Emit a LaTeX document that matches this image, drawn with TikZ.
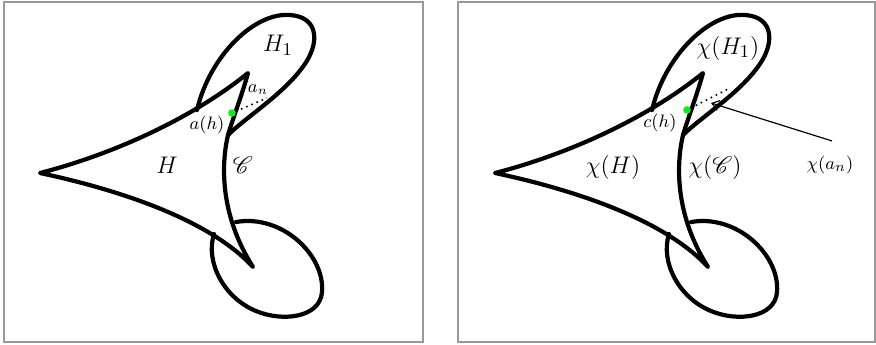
\documentclass[tikz,border=0pt]{standalone}
\usepackage{mathrsfs}
\usetikzlibrary{arrows.meta}
\definecolor{dotgreen}{RGB}{20,235,20}
\tikzset{
  curve/.style={line width=2.1pt, line join=round, line cap=round},
  frame/.style={draw=black!40, line width=0.6pt},
  big/.style={font=\fontsize{13}{15}\selectfont},
  small/.style={font=\fontsize{9}{10}\selectfont},
  dots/.style={dotted, line width=0.8pt},
}
\begin{document}
\begin{tikzpicture}[x=0.5pt,y=-0.5pt]
\useasboundingbox (0,0) rectangle (876,344);
\draw[frame] (4,2) rectangle (423,342);
\draw[frame] (458,2) rectangle (875,342);
\foreach \sx/\p in {0/L,455/R}{
\begin{scope}[shift={(\sx,0)}]
  \coordinate (tip\p) at (40,173);
  \coordinate (spike\p) at (248,73);
  \coordinate (j\p) at (228,135);
  \coordinate (bot\p) at (253,267);
  \coordinate (h1s\p) at (197,110);
  % main curvilinear triangle
  \draw[curve] (tip\p) .. controls (110,155) and (190,120) .. (spike\p)
     .. controls (242,95) and (234,115) .. (j\p)
     .. controls (221,165) and (220,215) .. (bot\p)
     .. controls (210,220) and (120,190) .. (tip\p) -- cycle;
  % upper loop H1
  \draw[curve] (h1s\p) .. controls (210,55) and (255,12) .. (290,15)
     .. controls (320,17) and (320,45) .. (302,68)
     .. controls (282,95) and (245,118) .. (j\p);
  % lower loop
  \draw[curve] (236,222) .. controls (282,214) and (325,255) .. (322,292)
     .. controls (320,318) and (282,322) .. (256,311)
     .. controls (224,298) and (205,262) .. (214,234);
\end{scope}
}
% left labels
\node[big] (H1) at (278,45) {$H_1$};
\node[small] (an) at (258,90) {$a_n$};
\node[small] (ah) at (207,125) {$a(h)$};
\node[big] (H) at (167,165) {$H$};
\node[big] (C) at (243,165) {$\mathscr{C}$};
\node[circle, fill=dotgreen, inner sep=0pt, minimum size=3.8pt] (gL) at (232,113) {};
\coordinate (dL) at (267,98);
\draw[dots] (gL) -- (dL);
% right labels
\node[big] (xH1) at (728,48) {$\chi(H_1)$};
\node[small] (ch) at (660,123) {$c(h)$};
\node[big] (xH) at (613,167) {$\chi(H)$};
\node[big] (xC) at (715,167) {$\chi(\mathscr{C})$};
\node[font=\fontsize{9.5}{11}\selectfont] (xan) at (830,165) {$\chi(a_n)$};
\node[circle, fill=dotgreen, inner sep=0pt, minimum size=3.8pt] (gR) at (687,110) {};
\coordinate (dR) at (730,88);
\draw[dots] (gR) -- (dR);
\coordinate (arr) at (711,103);
\draw[line width=0.6pt, -{Straight Barb[length=3.5pt,width=5pt]}] (xan.north) ++(2,-8) -- (arr);
\end{tikzpicture}
\end{document}
